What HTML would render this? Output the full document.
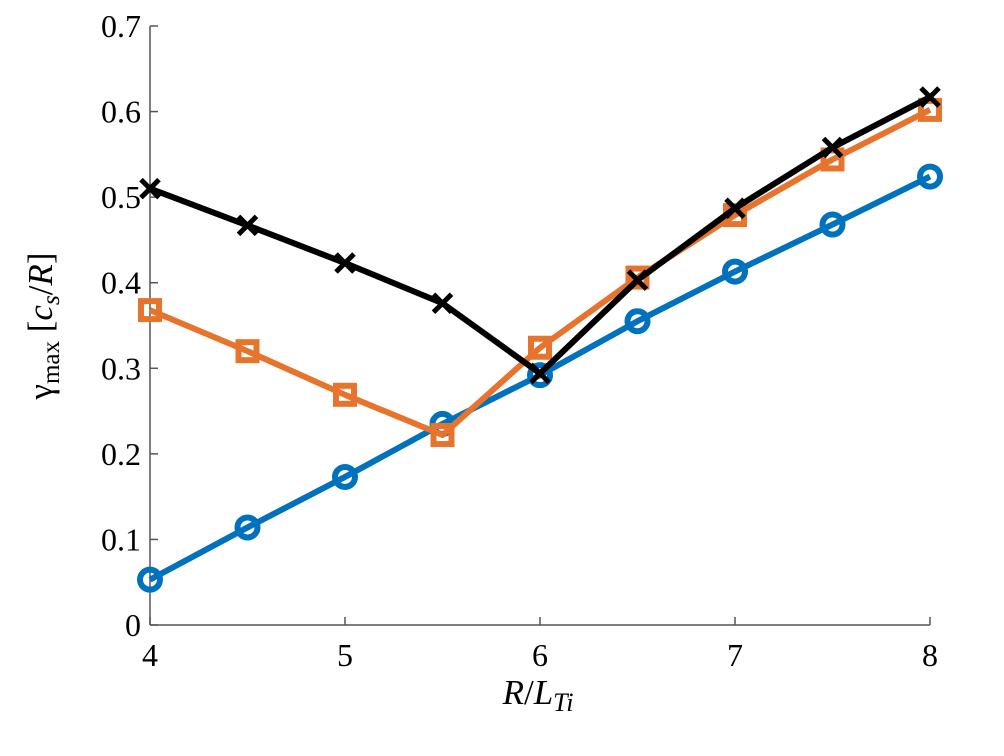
<!DOCTYPE html>
<html><head><meta charset="utf-8"><style>
body{margin:0;background:#fff}
svg{display:block}
text{font-family:"Liberation Serif",serif;fill:#000}
</style></head><body>
<svg id="chart" width="1004" height="756" viewBox="0 0 1004 756"></svg>
<script>
const xValues=[4,4.5,5,5.5,6,6.5,7,7.5,8];
const blueSeries=[0.053,0.114,0.173,0.235,0.292,0.355,0.413,0.468,0.524];
const orangeSeries=[0.368,0.320,0.269,0.222,0.324,0.406,0.479,0.544,0.602];
const blackSeries=[0.510,0.467,0.423,0.376,0.294,0.403,0.487,0.558,0.617];
const xTicks=[4,5,6,7,8];
const yTicks=[0,0.1,0.2,0.3,0.4,0.5,0.6,0.7];
const NS="http://www.w3.org/2000/svg";
const svg=document.getElementById('chart');
const X0=150,X1=930,Y0=625,Y1=26;
function sx(v){return X0+(v-4)/(8-4)*(X1-X0);}
function sy(v){return Y0-(v-0)/(0.7)*(Y0-Y1);}
function mk(tag,attrs,parent){const e=document.createElementNS(NS,tag);for(const k in attrs)e.setAttribute(k,attrs[k]);(parent||svg).appendChild(e);return e;}
const axes=mk('g',{});


const xa=mk('line',{x1:X0,y1:Y0,x2:X1,y2:Y0,stroke:'#555','stroke-width':1.5},axes);


const ya=mk('line',{x1:X0,y1:Y0,x2:X0,y2:Y1,stroke:'#555','stroke-width':1.5},axes);


xTicks.forEach(t=>{
 mk('line',{x1:sx(t),y1:Y0,x2:sx(t),y2:Y0-8,stroke:'#555','stroke-width':1.5},axes);
 const tx=mk('text',{x:sx(t),y:Y0+41,'text-anchor':'middle','font-size':32},axes);
 tx.textContent=t;
 
 
});
yTicks.forEach(t=>{
 mk('line',{x1:X0,y1:sy(t),x2:X0+8,y2:sy(t),stroke:'#555','stroke-width':1.5},axes);
 const tx=mk('text',{x:X0-9,y:sy(t)+11,'text-anchor':'end','font-size':32},axes);
 tx.textContent=t;
 
 
});
const xt=mk('text',{x:538,y:704,'text-anchor':'middle','font-size':35});
xt.innerHTML='<tspan font-style="italic">R</tspan>/<tspan font-style="italic">L</tspan><tspan font-style="italic" font-size="26" dy="7">Ti</tspan>';


const yt=mk('text',{transform:'translate(52,326) rotate(-90)','text-anchor':'middle','font-size':35});
yt.innerHTML='γ<tspan font-size="25" dy="7">max</tspan><tspan dy="-7"> [</tspan><tspan font-style="italic">c</tspan><tspan font-style="italic" font-size="25" dy="7">s</tspan><tspan dy="-7">/</tspan><tspan font-style="italic">R</tspan>]';


function series(vals,color,marker,name){
 const g=mk('g',{});
 
 
 mk('polyline',{points:xValues.map((x,i)=>sx(x)+','+sy(vals[i])).join(' '),fill:'none',stroke:color,'stroke-width':6,'stroke-linejoin':'round'},g);
 xValues.forEach((x,i)=>{
  const cx=sx(x),cy=sy(vals[i]);let m;
  if(marker==='o')m=mk('circle',{cx:cx,cy:cy,r:10,fill:'none',stroke:color,'stroke-width':6},g);
  else if(marker==='s')m=mk('rect',{x:cx-9,y:cy-9,width:18,height:18,fill:'none',stroke:color,'stroke-width':6},g);
  else m=mk('path',{d:`M${cx-9} ${cy-9}L${cx+9} ${cy+9}M${cx-9} ${cy+9}L${cx+9} ${cy-9}`,stroke:color,'stroke-width':5},g);
  
  
 });
}
series(blueSeries,'#0072bd','o','blue-series');
series(orangeSeries,'#e6742c','s','orange-series');
series(blackSeries,'#000','x','black-series');
</script>
</body></html>
